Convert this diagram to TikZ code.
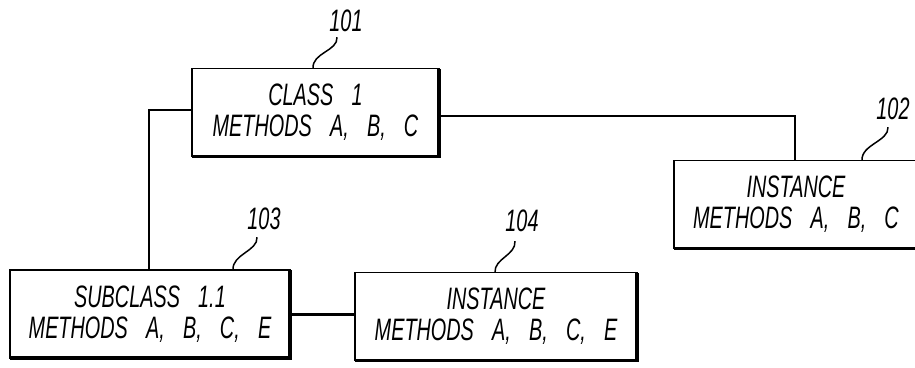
\documentclass[tikz,border=0pt]{standalone}
\usepackage{fontspec}
\setmainfont{Liberation Sans}[FakeStretch=0.64, WordSpace=3.3]
\usetikzlibrary{calc}
\newcommand{\patletter}{\fontsize{31}{31}\selectfont\itshape}
\begin{document}
\begin{tikzpicture}[x=1pt,y=-1pt,
  box/.style={draw, line width=1.6pt, minimum width=#1, minimum height=88pt,
    inner sep=0pt, outer sep=0pt, align=center, font=\patletter},
  heavy/.style={line width=3.2pt},
  ref/.style={inner sep=0pt, font=\patletter},
  link/.style={line width=1.4pt},
  thicklink/.style={line width=3pt},
  leader/.style={line width=1.5pt}]
\useasboundingbox (0,0) rectangle (915,367);

% boxes
\node[box=247pt] (n101) at (315.5,112.5) {CLASS 1\\METHODS A, B, C};
\node[box=244pt] (n102) at (796,204.5) {INSTANCE\\METHODS A, B, C};
\node[box=280pt] (n103) at (150,314) {SUBCLASS 1.1\\METHODS A, B, C, E};
\node[box=282pt] (n104) at (496,316.5) {INSTANCE\\METHODS A, B, C, E};

\foreach \n in {n101,n102,n103,n104}{
  \draw[heavy] (\n.south west) -- (\n.south east) -- (\n.north east);
}

% reference numerals
\node[ref] (l101) at (346,21) {101};
\node[ref] (l102) at (893,109) {102};
\node[ref] (l103) at (264,219) {103};
\node[ref] (l104) at (522,221) {104};

% connectors
\coordinate (c1) at (149,110);
\coordinate (c2) at (795,116);
\draw[link] (n101.west |- c1) -- (c1) -- (c1 |- n103.north);
\draw[link] (n101.east |- c2) -- (c2) -- (c2 |- n102.north);
\draw[thicklink] (n103.east) -- (n103.east -| n104.west);

% leaders
\draw[leader] ($(l101.south)+(-9,5)$) .. controls +(1,14) and +(-1,-16) .. (n101.north -| 313,0);
\draw[leader] ($(l102.south)+(-5,7)$) .. controls +(1,14) and +(-1,-16) .. (n102.north -| 862,0);
\draw[leader] ($(l103.south)+(-7,7)$) .. controls +(1,14) and +(-1,-16) .. (n103.north -| 233,0);
\draw[leader] ($(l104.south)+(-7,9)$) .. controls +(1,14) and +(-1,-14) .. (n104.north -| 495,0);
\end{tikzpicture}
\end{document}
